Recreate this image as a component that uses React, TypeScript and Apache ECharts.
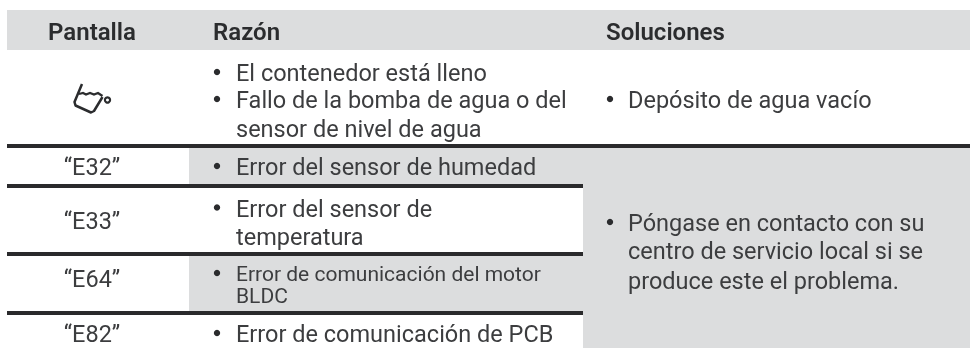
import React, { useEffect, useRef } from "react";
import * as echarts from "echarts";

const headers = ["Pantalla", "Razón", "Soluciones"];
const pantalla = ["“E32”", "“E33”", "“E64”", "“E82”"];
const razonIcono = ["El contenedor está lleno", "Fallo de la bomba de agua o del", "sensor de nivel de agua"];
const razonE32 = ["Error del sensor de humedad"];
const razonE33 = ["Error del sensor de", "temperatura"];
const razonE64 = ["Error de comunicación del motor", "BLDC"];
const razonE82 = ["Error de comunicación de PCB"];
const solucionIcono = ["Depósito de agua vacío"];
const solucionError = ["Póngase en contacto con su", "centro de servicio local si se", "produce este el problema."];

const FONT = "Roboto";
const INK = "#3c3d3f";
const DARK = "#2b2c2e";
const GRAY = "#dcddde";
const RULE = "#2a2a2c";
const BODY = 23.5;

const txt = (text: string, x: number, y: number, o: any = {}) => ({
  type: "text",
  x,
  y,
  silent: true,
  style: {
    text,
    fontFamily: FONT,
    fontSize: o.size ?? BODY,
    fontWeight: o.weight ?? 400,
    fill: o.fill ?? INK,
    align: o.align ?? "left",
    verticalAlign: "middle",
  },
});
const rect = (x: number, y: number, width: number, height: number, fill: string) => ({
  type: "rect",
  silent: true,
  shape: { x, y, width, height },
  style: { fill },
});
const bullet = (x: number, y: number) => ({
  type: "circle",
  silent: true,
  shape: { cx: x, cy: y, r: 3.2 },
  style: { fill: DARK },
});
const bulleted = (lines: string[], ys: number[], bx: number, tx: number, size?: number) => [
  bullet(bx, ys[0] - 1),
  ...lines.map((l, i) => txt(l, tx, ys[i], { size })),
];

export default function App() {
  const ref = useRef<HTMLDivElement>(null);
  useEffect(() => {
    const chart = echarts.init(ref.current!, undefined, { renderer: "svg" });
    const head = { weight: 600, fill: DARK, size: 24 };
    const elements: any[] = [
      rect(7, 10, 963, 40, GRAY),
      rect(189, 148, 781, 37, GRAY),
      rect(189, 256, 394, 55, GRAY),
      rect(583, 148, 387, 200, GRAY),
      rect(7, 144, 963, 4, RULE),
      rect(7, 184, 576, 4, RULE),
      rect(7, 252, 576, 4, RULE),
      rect(7, 311, 576, 4, RULE),
      txt(headers[0], 92, 31.5, { ...head, align: "center" }),
      txt(headers[1], 213, 31.5, head),
      txt(headers[2], 606, 31.5, head),
      txt(pantalla[0], 92, 167, { align: "center" }),
      txt(pantalla[1], 92, 221, { align: "center" }),
      txt(pantalla[2], 92, 279, { align: "center" }),
      txt(pantalla[3], 92, 334, { align: "center" }),
      bullet(217, 72),
      txt(razonIcono[0], 236, 73),
      bullet(217, 99),
      txt(razonIcono[1], 236, 100),
      txt(razonIcono[2], 236, 129),
      ...bulleted(razonE32, [167], 217, 236),
      ...bulleted(razonE33, [208.5, 237], 217, 236),
      ...bulleted(razonE64, [274, 296], 217, 236, 21),
      ...bulleted(razonE82, [334], 217, 236),
      ...bulleted(solucionIcono, [100], 610, 628),
      ...bulleted(solucionError, [223, 251, 281], 610, 628),
      {
        type: "polyline",
        silent: true,
        shape: { points: [[82, 84], [74.5, 102], [75.5, 105.5], [91, 112.5], [94, 111], [102.5, 97]] },
        style: { stroke: DARK, lineWidth: 2.5, fill: "none", lineJoin: "round" },
      },
      {
        type: "polyline",
        silent: true,
        smooth: 0.4,
        shape: { points: [[79, 94], [83, 93], [86, 94.5], [90, 93], [94, 94.5], [98, 93], [102.5, 96]] },
        style: { stroke: DARK, lineWidth: 2.3, fill: "none" },
      },
      {
        type: "circle",
        silent: true,
        shape: { cx: 107.5, cy: 100, r: 2.6 },
        style: { stroke: DARK, lineWidth: 2.2, fill: "none" },
      },
    ];
    chart.setOption({ animation: false, backgroundColor: "#ffffff", graphic: { elements } });
    return () => chart.dispose();
  }, []);
  return <div ref={ref} style={{ position: "absolute", left: 0, top: 0, width: 970, height: 348, filter: "blur(0.35px)" }} />;
}
